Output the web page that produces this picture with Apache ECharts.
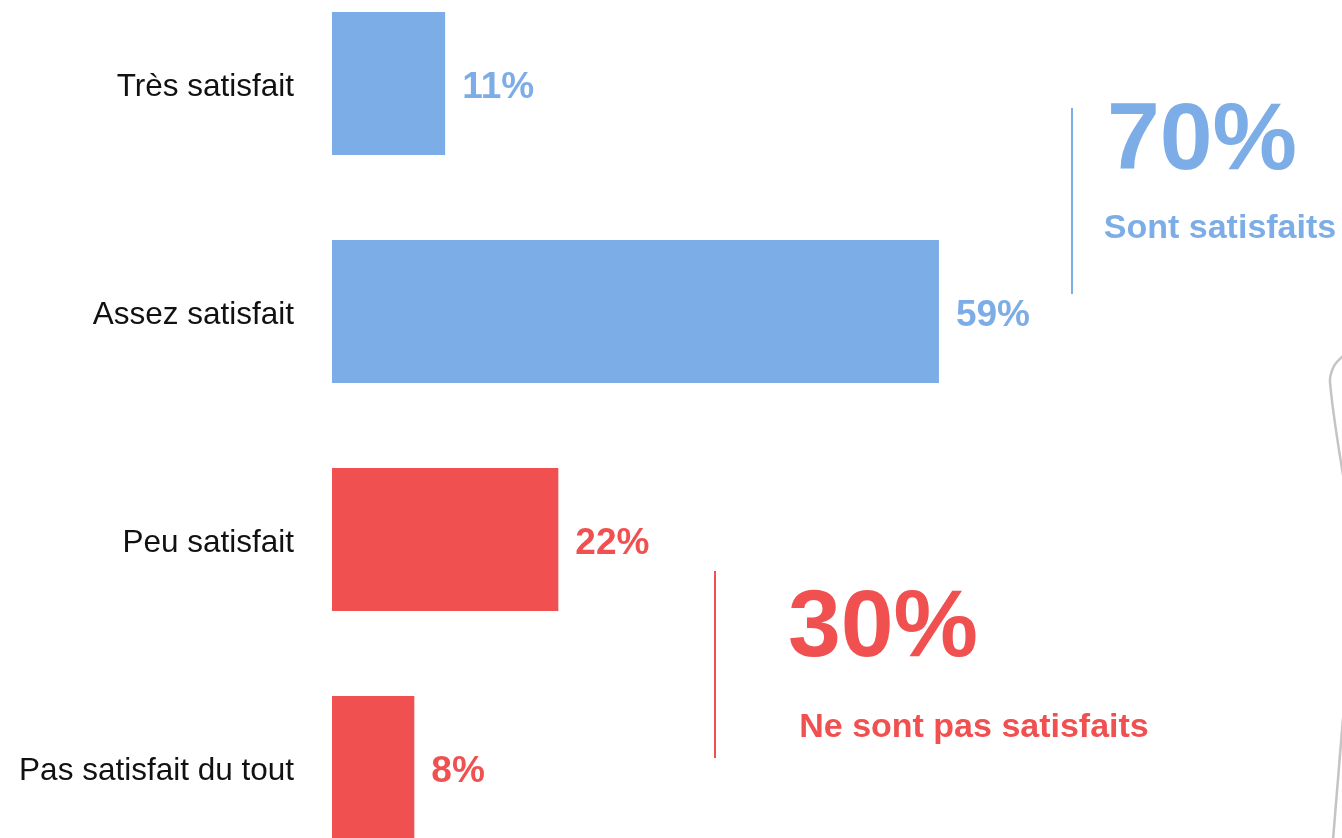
<!DOCTYPE html>
<html lang="fr">
<head>
	<meta charset="UTF-8">
	<title>Satisfaction</title>
	<script src="https://cdn.jsdelivr.net/npm/echarts@6/dist/echarts.min.js"></script>
	<style>
		html, body { margin: 0; padding: 0; background: #fff; }
		#chart { width: 1342px; height: 838px; }
	</style>
</head>
<body>
	<div id="chart"></div>
	<script type="text/javascript">
		// données
		var categories = ['Très satisfait', 'Assez satisfait', 'Peu satisfait', 'Pas satisfait du tout'];
		var values = [11, 59, 22, 8];
		var isSatisfied = [true, true, false, false];

		var blue = '#7DADE6';
		var red = '#F05050';
		var font = '"Liberation Sans", Arial, sans-serif';

		var totalOk = 0, totalKo = 0;
		for (var i = 0; i < values.length; i++) {
			if (isSatisfied[i]) totalOk += values[i]; else totalKo += values[i];
		}

		var barData = values.map(function (v, i) {
			var c = isSatisfied[i] ? blue : red;
			return { value: v, itemStyle: { color: c }, label: { color: c } };
		});

		var myChart = echarts.init(document.getElementById('chart'));
		myChart.setOption({
			animation: false,
			// boundaryGap false : centres des barres sur les bords de la grille
			grid: { left: 332, right: 187, top: 83.5, bottom: 70.5, containLabel: false },
			xAxis: {
				type: 'value', min: 0, max: 80, show: false
			},
			yAxis: {
				type: 'category',
				inverse: true,
				boundaryGap: false,
				data: categories,
				axisLine: { show: false },
				axisTick: { show: false },
				splitLine: { show: false },
				axisLabel: {
					margin: 38,
					formatter: function (v) { return '{a|' + v + '}'; },
					rich: { a: { fontSize: 31.5, color: '#111', fontFamily: font, padding: [7, 0, 0, 0] } }
				}
			},
			series: [{
				type: 'bar',
				barWidth: 143,
				data: barData,
				label: {
					show: true, position: 'right', distance: 17, offset: [0, 4],
					formatter: '{c}%', fontSize: 37, fontWeight: 'bold', fontFamily: font
				}
			}],
			graphic: [
				{ type: 'line', shape: { x1: 1072, y1: 108, x2: 1072, y2: 294 }, style: { stroke: blue, lineWidth: 2 } },
				{ type: 'text', x: 1202, y: 143, style: { text: totalOk + '%', fill: blue, font: 'bold 95px ' + font, textAlign: 'center', textVerticalAlign: 'middle' } },
				{ type: 'text', x: 1220, y: 229, style: { text: 'Sont satisfaits', fill: blue, font: 'bold 34px ' + font, textAlign: 'center', textVerticalAlign: 'middle' } },
				{ type: 'line', shape: { x1: 715, y1: 571, x2: 715, y2: 758 }, style: { stroke: red, lineWidth: 2 } },
				{ type: 'text', x: 883, y: 630, style: { text: totalKo + '%', fill: red, font: 'bold 95px ' + font, textAlign: 'center', textVerticalAlign: 'middle' } },
				{ type: 'text', x: 974, y: 728, style: { text: 'Ne sont pas satisfaits', fill: red, font: 'bold 34px ' + font, textAlign: 'center', textVerticalAlign: 'middle' } },
				// décor gris à droite
				{ type: 'polyline', shape: { points: [[1343, 356], [1334, 366], [1330, 382], [1343, 475]], smooth: 0.3 }, style: { stroke: '#c4c4c4', lineWidth: 2.5, fill: null } },
				{ type: 'polyline', shape: { points: [[1343, 718], [1333, 840]] }, style: { stroke: '#c4c4c4', lineWidth: 2.5, fill: null } }
			]
		});
	</script>
</body>
</html>
